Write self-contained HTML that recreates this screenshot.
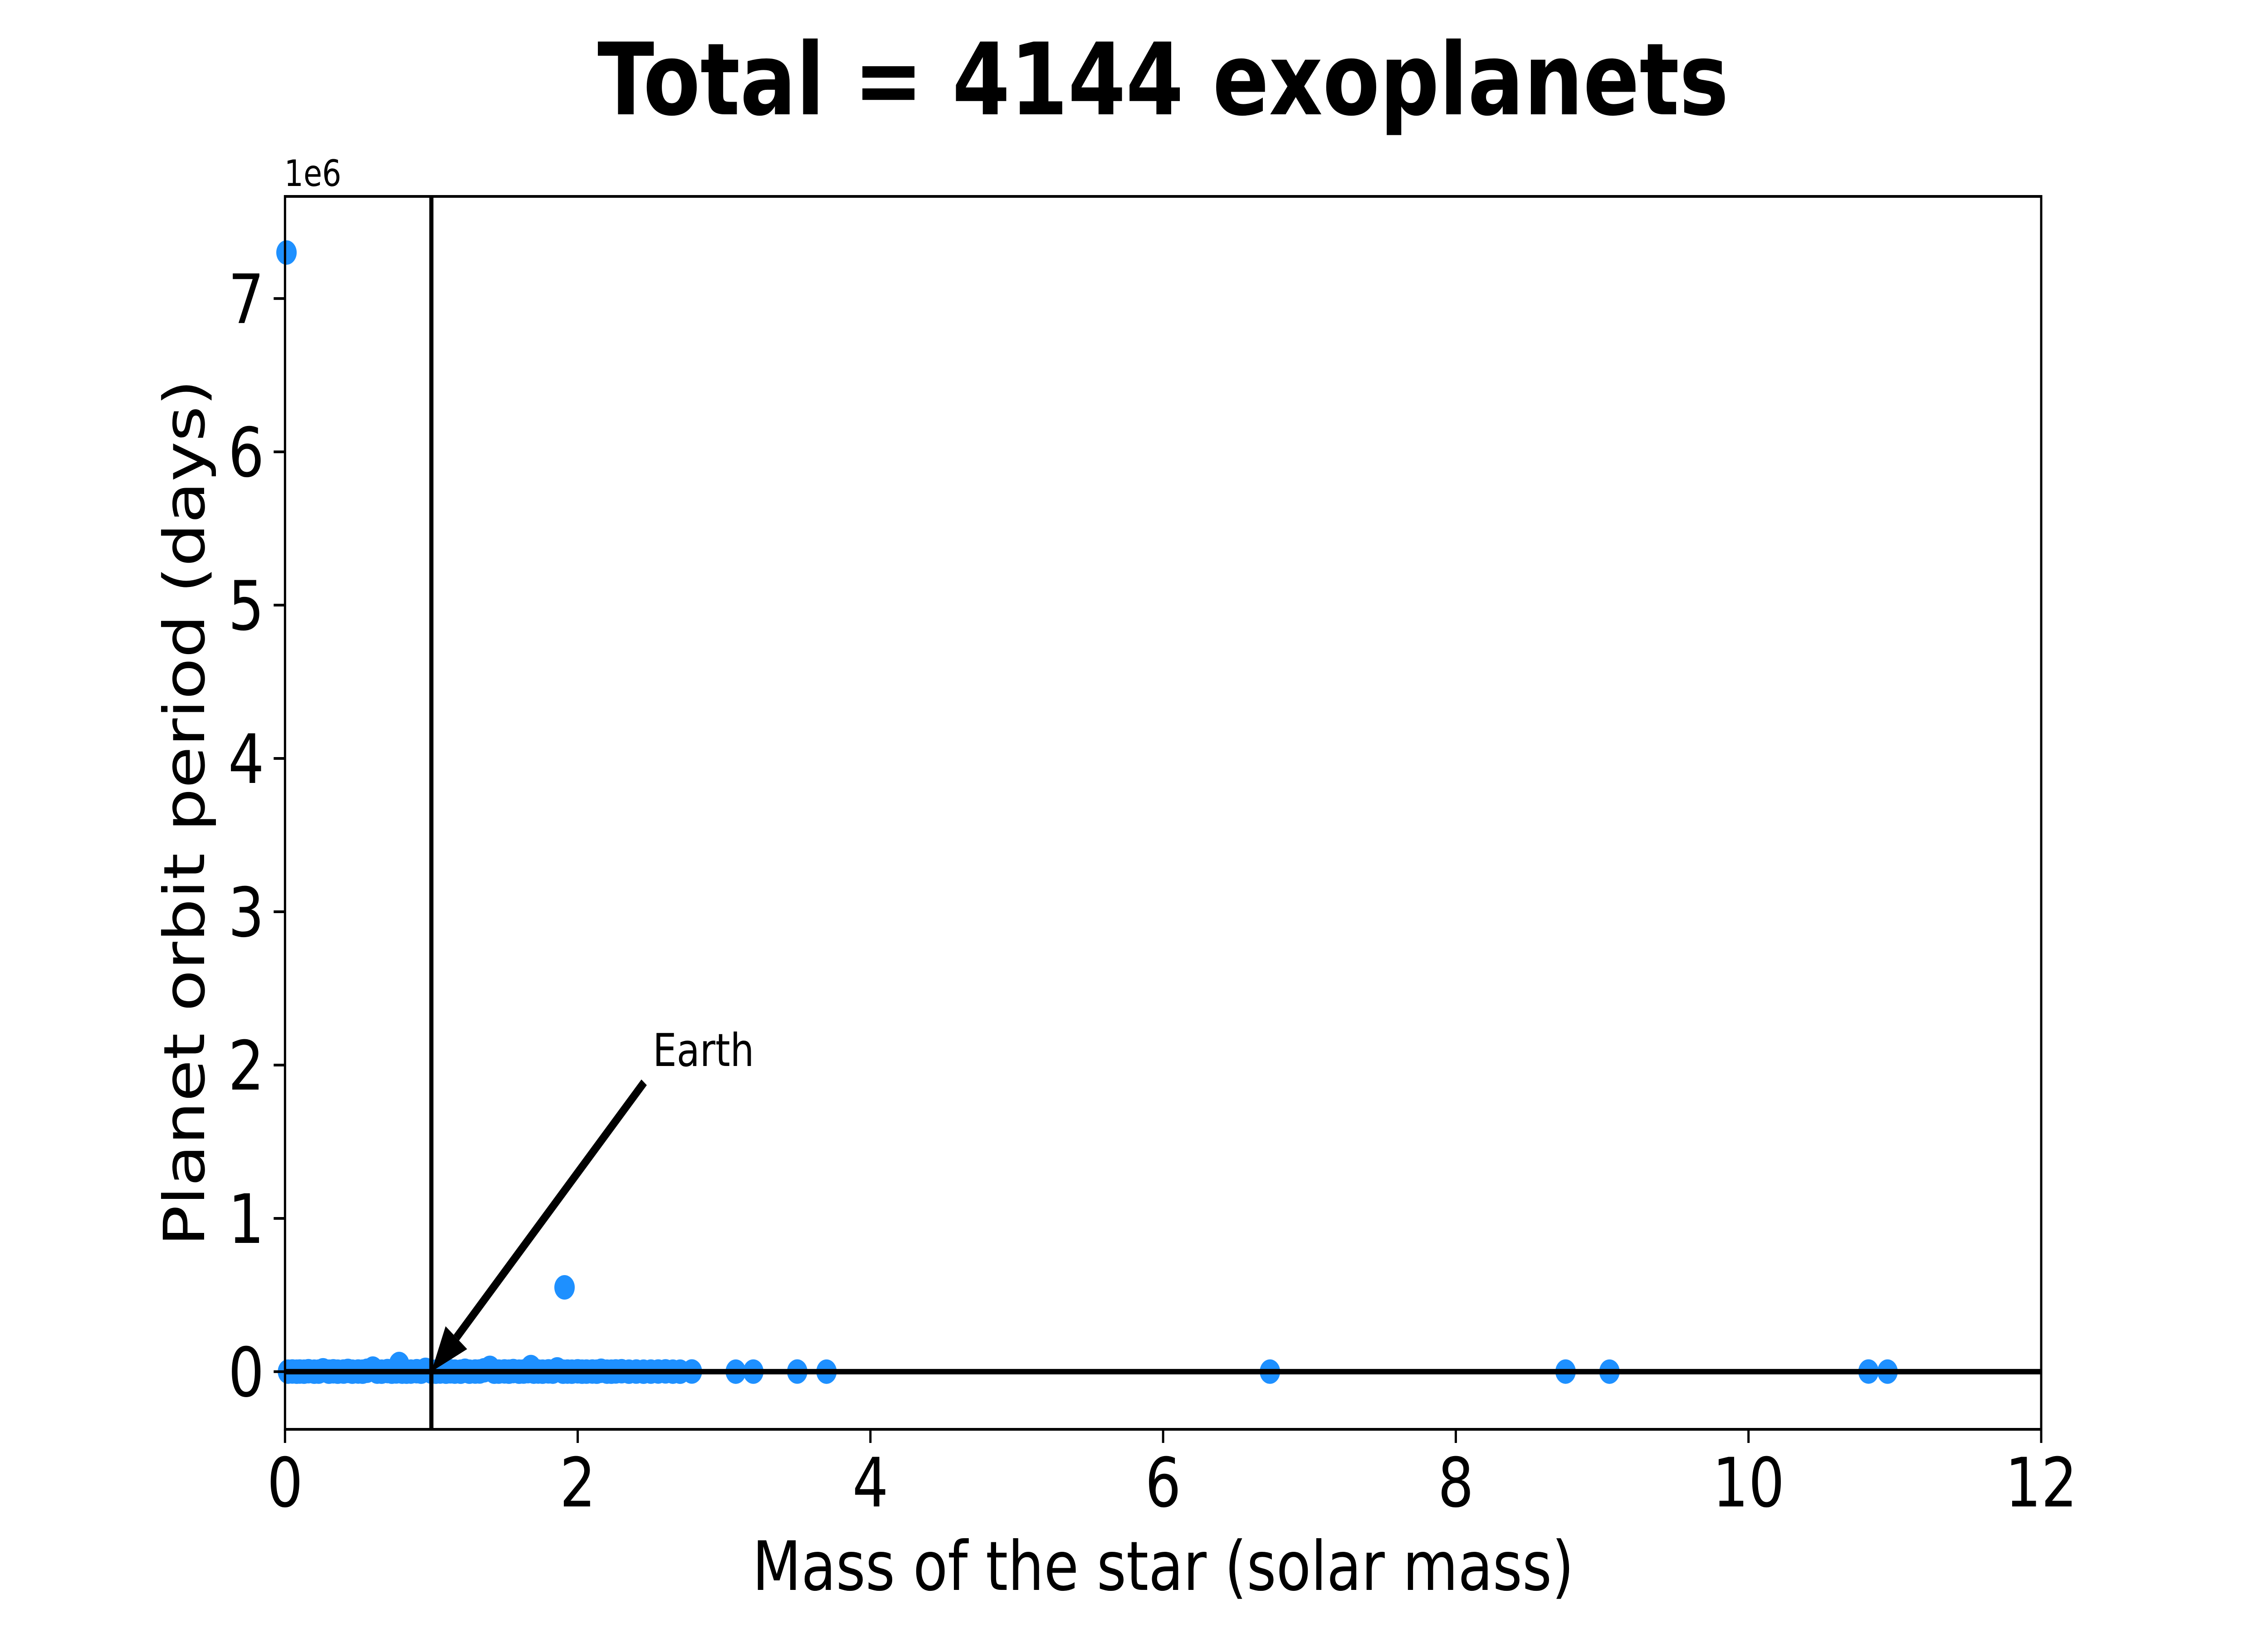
<!DOCTYPE html>
<html><head><meta charset="utf-8"><style>
html,body{margin:0;padding:0;background:#fff;overflow:hidden;width:100%;height:100%;}
svg{display:block;width:100vw;height:100vh;font-family:"DejaVu Sans","Liberation Sans",sans-serif;}
</style></head><body>
<svg id="chart" xmlns="http://www.w3.org/2000/svg" viewBox="0 0 6000 3600" preserveAspectRatio="none">
<rect x="0" y="0" width="6000" height="3600" fill="#fff"/>
<text x="3077" y="252" text-anchor="middle" font-size="220" font-weight="bold">Total = 4144 exoplanets</text>
<g id="marks"></g>
<g id="axes"></g>
</svg>
<script>
const masses = [0.01,0.02,0.05,0.08,0.1,0.13,0.16,0.2,0.23,0.26,0.3,0.33,0.36,0.4,0.43,0.46,0.5,0.53,0.56,0.6,0.63,0.66,0.7,0.73,0.76,0.78,0.8,0.83,0.86,0.9,0.93,0.96,1.0,1.03,1.06,1.1,1.13,1.16,1.2,1.23,1.26,1.3,1.33,1.36,1.4,1.43,1.46,1.5,1.53,1.56,1.6,1.63,1.66,1.68,1.7,1.73,1.76,1.8,1.83,1.86,1.9,1.91,1.93,1.96,2.0,2.03,2.06,2.1,2.13,2.16,2.2,2.23,2.26,2.3,2.35,2.4,2.45,2.5,2.55,2.6,2.65,2.7,2.78,3.08,3.2,3.5,3.7,6.73,8.75,9.05,10.82,10.95];
const periods = [7300000,300,1200,50,800,20,3000,15,400,9000,60,2500,30,700,5000,12,900,40,6000,20000,300,10,4000,25,1500,50000,200,8,600,3000,30,12000,365,70,1000,15,2200,400,90,6000,20,800,1100,9000,25000,35,500,1800,60,4000,12,700,3500,30000,200,1000,45,2000,300,15000,80,550000,600,25,2500,120,400,900,30,6000,200,50,1500,3000,100,700,20,400,900,2000,300,60,1200,200,500,800,300,400,600,300,900,400];
const xTicks = [0,2,4,6,8,10,12];
const yTicks = [0,1,2,3,4,5,6,7];
const xMin = 0, xMax = 12, yMin = -376000, yMax = 7666000;
const L = 754, R = 5400, T = 433, B = 3151;
function sx(v){return L + (v - xMin) / (xMax - xMin) * (R - L);}
function sy(v){return B - (v - yMin) / (yMax - yMin) * (B - T);}
const NS = 'http://www.w3.org/2000/svg';
function mk(tag, attrs, parent){const e=document.createElementNS(NS,tag);for(const k in attrs)e.setAttribute(k,attrs[k]);parent.appendChild(e);return e;}
const marks = document.getElementById('marks');
const axes = document.getElementById('axes');
for (let i = 0; i < masses.length; i++) {
  const c = mk('circle', {cx: sx(masses[i]), cy: sy(periods[i]), r: 27, fill: '#1e90ff'}, marks);
  
  
}
const hz = mk('line', {x1: L, x2: R, y1: sy(0), y2: sy(0), stroke: '#000', 'stroke-width': 12}, axes);


const vt = mk('line', {x1: sx(1), x2: sx(1), y1: T, y2: B, stroke: '#000', 'stroke-width': 11}, axes);


const fr = mk('rect', {x: L, y: T, width: R - L, height: B - T, fill: 'none', stroke: '#000', 'stroke-width': 6}, axes);


xTicks.forEach(t => {
  const x = sx(t);
  const tk = mk('line', {x1: x, x2: x, y1: B, y2: B + 30, stroke: '#000', 'stroke-width': 6}, axes);
  
  
  const tx = mk('text', {x: x, y: 3321, 'text-anchor': 'middle', 'font-size': 150}, axes);
  tx.textContent = String(t);
  
  
});
yTicks.forEach(t => {
  const y = sy(t * 1e6);
  const tk = mk('line', {x1: L - 30, x2: L, y1: y, y2: y, stroke: '#000', 'stroke-width': 6}, axes);
  
  
  const tx = mk('text', {x: L - 55, y: y + 54, 'text-anchor': 'end', 'font-size': 150}, axes);
  tx.textContent = String(t);
  
  
});
const off = mk('text', {x: 752, y: 410, 'font-size': 80}, axes);
off.textContent = '1e6';


const xl = mk('text', {x: (L + R) / 2, y: 3505, 'text-anchor': 'middle', 'font-size': 150}, axes);
xl.textContent = 'Mass of the star (solar mass)';


const yl = mk('text', {x: 0, y: 0, 'text-anchor': 'middle', 'font-size': 150, transform: 'translate(540,' + ((T + B) / 2) + ') rotate(-90)'}, axes);
yl.textContent = 'Planet orbit period (days)';


const tipX = sx(1), tipY = sy(0), tailX = 1704, tailY = 2386;
const dx = tipX - tailX, dy = tipY - tailY, len = Math.hypot(dx, dy), ux = dx / len, uy = dy / len;
const bx = tipX - ux * 100, by = tipY - uy * 100;
const ar = mk('line', {x1: tailX, y1: tailY, x2: bx, y2: by, stroke: '#000', 'stroke-width': 19}, axes);


const hd = mk('polygon', {points: tipX + ',' + tipY + ' ' + (bx - uy * 38) + ',' + (by + ux * 38) + ' ' + (bx + uy * 38) + ',' + (by - ux * 38), fill: '#000'}, axes);


const et = mk('text', {x: 1727, y: 2350, 'font-size': 100}, axes);
et.textContent = 'Earth';


</script>
</body></html>
